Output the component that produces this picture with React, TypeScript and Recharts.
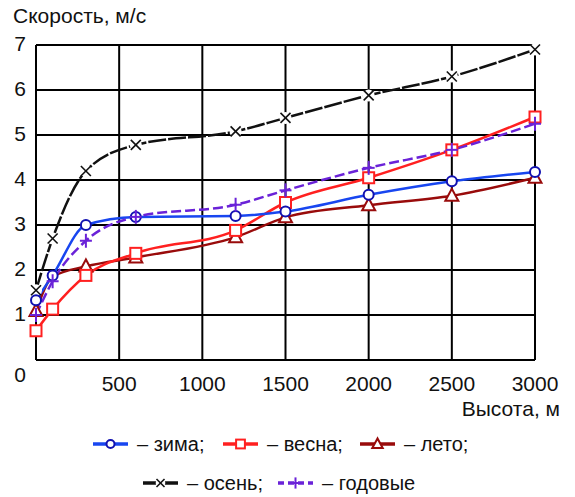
import { LineChart, Line, XAxis, YAxis, CartesianGrid, Legend, Label } from "recharts";

// высота над землёй, м
const heights = [0, 100, 300, 600, 1200, 1500, 2000, 2500, 3000];
// скорость ветра, м/с
const zima = [1.33, 1.88, 3.0, 3.18, 3.2, 3.3, 3.67, 3.97, 4.18];
const vesna = [0.65, 1.13, 1.88, 2.37, 2.88, 3.5, 4.05, 4.67, 5.4];
const leto = [1.09, 1.85, 2.08, 2.28, 2.73, 3.17, 3.44, 3.65, 4.05];
const osen = [1.55, 2.7, 4.2, 4.78, 5.08, 5.38, 5.88, 6.3, 6.9];
const godovye = [1.0, 1.75, 2.65, 3.18, 3.45, 3.77, 4.27, 4.67, 5.25];

const xTicks = [0, 500, 1000, 1500, 2000, 2500, 3000];
const yTicks = [0, 1, 2, 3, 4, 5, 6, 7];

const data = heights.map((h, i) => ({
  h,
  zima: zima[i],
  vesna: vesna[i],
  leto: leto[i],
  osen: osen[i],
  godovye: godovye[i],
}));

const FONT = "'Liberation Sans', Arial, sans-serif";

const C = {
  zima: "#1846f0",
  zimaDot: "#1010b0",
  vesna: "#ff2020",
  leto: "#990b0b",
  osen: "#111111",
  godovye: "#6a22d8",
};

type Shape = "circle" | "square" | "triangle" | "cross" | "plus";

function Marker({ shape, cx, cy, color, s = 1 }: { shape: Shape; cx: number; cy: number; color: string; s?: number }) {
  if (shape === "circle")
    return <circle cx={cx} cy={cy} r={5 * s} fill="#fff" stroke={color} strokeWidth={2} />;
  if (shape === "square")
    return (
      <rect x={cx - 5.5 * s} y={cy - 5.5 * s} width={11 * s} height={11 * s} fill="#fff" stroke={color} strokeWidth={2} />
    );
  if (shape === "triangle")
    return (
      <polygon
        points={`${cx},${cy - 7 * s} ${cx - 6.5 * s},${cy + 5 * s} ${cx + 6.5 * s},${cy + 5 * s}`}
        fill="#fff"
        stroke={color}
        strokeWidth={2}
      />
    );
  if (shape === "cross")
    return (
      <g>
        <circle cx={cx} cy={cy} r={6 * s} fill="#fff" />
        <g stroke={color} strokeWidth={1.6}>
          <line x1={cx - 5 * s} y1={cy - 5 * s} x2={cx + 5 * s} y2={cy + 5 * s} />
          <line x1={cx - 5 * s} y1={cy + 5 * s} x2={cx + 5 * s} y2={cy - 5 * s} />
        </g>
      </g>
    );
  return (
    <g stroke={color} strokeWidth={2}>
      <line x1={cx - 6 * s} y1={cy} x2={cx + 6 * s} y2={cy} />
      <line x1={cx} y1={cy - 7 * s} x2={cx} y2={cy + 7 * s} />
    </g>
  );
}

const dotFor = (shape: Shape, color: string, skip: number[] = []) => (props: any) => {
  const { cx, cy, index } = props;
  if (skip.includes(index) || cx == null || cy == null) return <g key={`d-${index}`} />;
  return (
    <g key={`d-${index}`}>
      <Marker shape={shape} cx={cx} cy={cy} color={color} />
    </g>
  );
};

const legendItems = [
  { row: 0, left: 93, text: "– зима;", line: C.zima, mark: C.zimaDot, shape: "circle" as Shape, dash: undefined },
  { row: 0, left: 223, text: "– весна;", line: C.vesna, mark: C.vesna, shape: "square" as Shape, dash: undefined },
  { row: 0, left: 360, text: "– лето;", line: C.leto, mark: C.leto, shape: "triangle" as Shape, dash: undefined },
  { row: 1, left: 143, text: "– осень;", line: C.osen, mark: C.osen, shape: "cross" as Shape, dash: undefined },
  { row: 1, left: 278, text: "– годовые", line: C.godovye, mark: C.godovye, shape: "plus" as Shape, dash: "6 4" },
];

function LegendBox() {
  return (
    <div style={{ position: "relative", height: 75, width: 575, fontFamily: FONT, fontSize: 20, color: "#111" }}>
      {legendItems.map((it) => (
        <div
          key={it.text}
          style={{
            position: "absolute",
            left: it.left,
            top: it.row === 0 ? 10 : 49,
            height: 24,
            display: "flex",
            alignItems: "center",
            whiteSpace: "nowrap",
          }}
        >
          <svg width={35} height={20} style={{ marginRight: 9 }}>
            <line x1={0} y1={10} x2={35} y2={10} stroke={it.line} strokeWidth={3.5} strokeDasharray={it.dash} />
            <Marker shape={it.shape} cx={17.5} cy={10} color={it.mark} s={0.8} />
          </svg>
          <span>{it.text}</span>
        </div>
      ))}
    </div>
  );
}

const XTick = (props: any) => {
  const { x, y, payload } = props;
  if (payload.value === 0) return <g />;
  return (
    <text x={x} y={y + 23} textAnchor="middle" dominantBaseline="central" fontFamily={FONT} fontSize={21} fill="#111">
      {payload.value}
    </text>
  );
};

const YTick = (props: any) => {
  const { x, y, payload } = props;
  return (
    <text
      x={x}
      y={payload.value === 0 ? y + 14 : y - 2}
      textAnchor="end"
      dominantBaseline="central"
      fontFamily={FONT}
      fontSize={21}
      fill="#111"
    >
      {payload.value}
    </text>
  );
};

export default function App() {
  return (
    <div style={{ position: "absolute", left: 0, top: 0, width: 575, height: 497, background: "#fff" }}>
      <LineChart width={575} height={497} data={data} margin={{ top: 45, right: 40, bottom: 0, left: 0 }}>
        <CartesianGrid stroke="#000" strokeWidth={2} horizontalValues={yTicks} verticalValues={xTicks} />
        <XAxis
          dataKey="h"
          type="number"
          domain={[0, 3000]}
          ticks={xTicks}
          height={62}
          tickSize={0}
          tickMargin={0}
          tick={<XTick />}
          axisLine={{ stroke: "#000", strokeWidth: 2 }}
          tickLine={false}
        >
          <Label
            content={() => (
              <text x={560} y={416} textAnchor="end" fontFamily={FONT} fontSize={21} fill="#111">
                Высота, м
              </text>
            )}
          />
        </XAxis>
        <YAxis
          type="number"
          domain={[0, 7]}
          ticks={yTicks}
          width={36}
          tickSize={0}
          tickMargin={10}
          tick={<YTick />}
          axisLine={{ stroke: "#000", strokeWidth: 2 }}
          tickLine={false}
        >
          <Label
            content={() => (
              <text x={13} y={23} fontFamily={FONT} fontSize={21} fill="#111">
                Скорость, м/с
              </text>
            )}
          />
        </YAxis>
        <Legend verticalAlign="bottom" content={() => <LegendBox />} wrapperStyle={{ left: 0, width: 575, height: 75 }} />
        <Line
          dataKey="osen"
          type="monotone"
          stroke={C.osen}
          strokeWidth={2.5}
          strokeDasharray="18 2"
          dot={dotFor("cross", C.osen)}
          isAnimationActive={false}
        />
        <Line
          dataKey="leto"
          type="monotone"
          stroke={C.leto}
          strokeWidth={2.5}
          dot={dotFor("triangle", C.leto, [1])}
          isAnimationActive={false}
        />
        <Line
          dataKey="vesna"
          type="monotone"
          stroke={C.vesna}
          strokeWidth={2.5}
          dot={dotFor("square", C.vesna)}
          isAnimationActive={false}
        />
        <Line
          dataKey="zima"
          type="monotone"
          stroke={C.zima}
          strokeWidth={2.5}
          dot={dotFor("circle", C.zimaDot)}
          isAnimationActive={false}
        />
        <Line
          dataKey="godovye"
          type="monotone"
          stroke={C.godovye}
          strokeWidth={2.5}
          strokeDasharray="10 4"
          dot={dotFor("plus", C.godovye)}
          isAnimationActive={false}
        />
      </LineChart>
    </div>
  );
}
